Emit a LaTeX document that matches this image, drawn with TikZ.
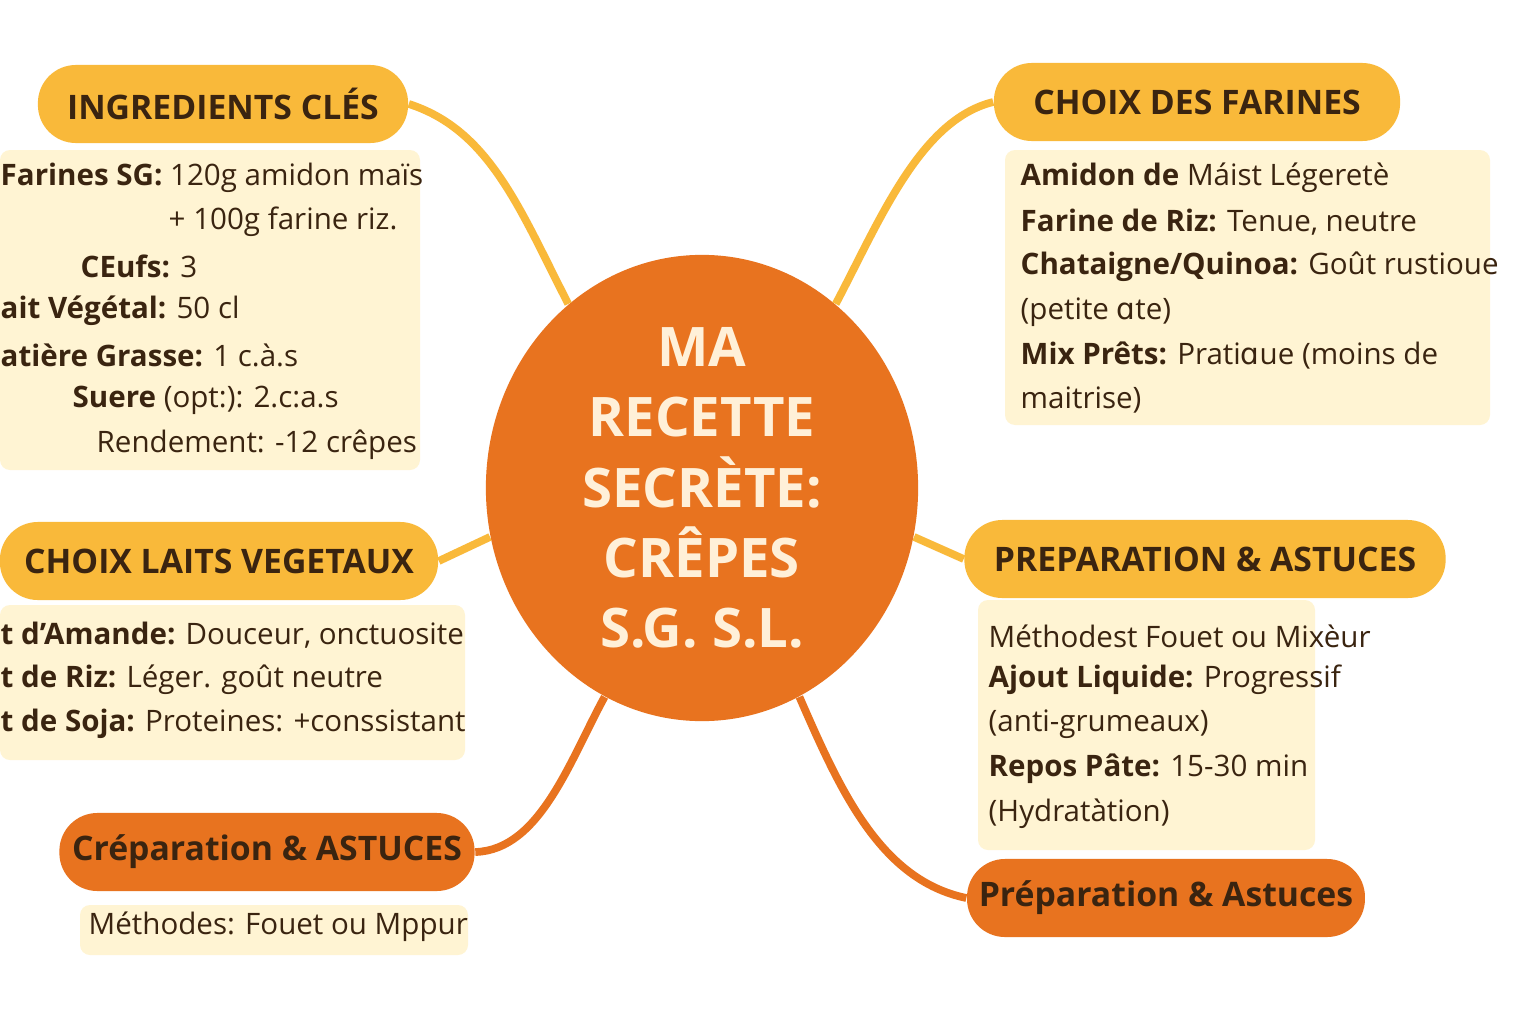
\documentclass[tikz,border=0pt]{standalone}
\usepackage{fontspec}
\setmainfont{Open Sans}
\newfontfamily\alphafont{DejaVu Sans}
\usetikzlibrary{shapes.geometric}
\definecolor{sun}{HTML}{F9B93A}
\definecolor{tang}{HTML}{E8731F}
\definecolor{cream}{HTML}{FFF2C8}
\definecolor{ink}{HTML}{3A2410}
\definecolor{pale}{HTML}{FFF0D8}
\newcommand{\lalpha}{{\alphafont ɑ}}
\tikzset{
 pill/.style={rounded corners=0.38cm, fill=#1, minimum height=0.78cm, font=\fontsize{9.6}{11}\selectfont\bfseries, text=ink},
 link/.style={line width=2.2pt, #1},
 item/.style={anchor=west, font=\fontsize{8.4}{10}\selectfont, text=ink, inner sep=0pt},
 wash/.style={fill=cream, opacity=0.8, rounded corners=0.1cm}
}
\begin{document}
\begin{tikzpicture}[x=0.01cm,y=-0.01cm]
\useasboundingbox[fill=white] (0,0) rectangle (1536,1024);
% cream patches under the lists
\fill[wash] (0,150) rectangle (420,470);\fill[wash] (1005,150) rectangle (1490,425);
\fill[wash] (0,605) rectangle (465,760);\fill[wash] (978,600) rectangle (1315,850);
\fill[wash] (80,905) rectangle (468,955);

\node[ellipse, fill=tang, inner sep=0pt, minimum width=4.32cm, minimum height=4.66cm, align=center, text=pale, font=\fontsize{15.5}{20}\selectfont\bfseries] (c) at (702,488) {MA\\RECETTE\\SECRÈTE:\\CRÊPES\\S.G. S.L.};

\node[pill=sun, minimum width=3.70cm] (ing) at (223,104) {INGREDIENTS CLÉS};
\node[pill=sun, minimum width=4.06cm] (far) at (1197,102) {CHOIX DES FARINES};
\node[pill=sun, minimum width=4.38cm] (lai) at (219,561) {CHOIX LAITS VEGETAUX};
\node[pill=sun, minimum width=4.81cm] (pre) at (1205,559) {PREPARATION \& ASTUCES};
\node[pill=tang, minimum width=4.15cm] (cre) at (267,852) {Créparation \& ASTUCES};
\node[pill=tang, minimum width=3.92cm] (pra) at (1166,898) {Préparation \& Astuces};

\draw[link=sun] (ing.east) .. controls (490,130) and (520,210) .. (c.126);
\draw[link=sun] (far.west) .. controls (920,120) and (880,220) .. (c.54);
\draw[link=sun] (lai.east) -- (c.193);
\draw[link=sun] (pre.west) -- (c.347);
\draw[link=tang] (cre.east) .. controls (540,850) and (570,760) .. (c.245);
\draw[link=tang] (pra.west) .. controls (880,880) and (840,790) .. (c.295);

% ingredients
\node[item] (i1) at (0,178) {\textbf{Farines SG:} 120g amidon maïs};
\node[item] (i2) at (168,222) {+ 100g farine riz.};
\node[item] (i3) at (80,266) {\textbf{CEufs:} 3};
\node[item] (i4) at (0,311) {\textbf{ait Végétal:} 50 cl};
\node[item] (i5) at (0,355) {\textbf{atière Grasse:} 1 c.à.s};
\node[item] (i6) at (72,400) {\textbf{Suere} (opt:): 2.c:a.s};
\node[item] (i7) at (96,445) {Rendement: -12 crêpes};
% flours
\node[item] (f1) at (1020,178) {\textbf{Amidon de} Máist Légeretè};
\node[item] (f2) at (1020,222) {\textbf{Farine de Riz:} Tenue, neutre};
\node[item] (f3) at (1020,267) {\textbf{Chataigne/Quinoa:} Goût rustioue};
\node[item] (f4) at (1020,312) {(petite \lalpha te)};
\node[item] (f5) at (1020,356) {\textbf{Mix Prêts:} Prati\lalpha ue (moins de};
\node[item] (f6) at (1020,400) {maitrise)};
% milks
\node[item] (l1) at (0,635) {\textbf{t d'Amande:} Douceur, onctuosite};
\node[item] (l2) at (0,680) {\textbf{t de Riz:} Léger. goût neutre};
\node[item] (l3) at (0,724) {\textbf{t de Soja:} Proteines: +conssistant};
% method
\node[item] (p1) at (988,636) {Méthodest Fouet ou Mixèur};
\node[item] (p2) at (988,680) {\textbf{Ajout Liquide:} Progressif};
\node[item] (p3) at (988,724) {(anti-grumeaux)};
\node[item] (p4) at (988,769) {\textbf{Repos Pâte:} 15-30 min};
\node[item] (p5) at (988,814) {(Hydratàtion)};
\node[item] (m1) at (88,927) {Méthodes: Fouet ou Mppur};
\end{tikzpicture}
\end{document}
